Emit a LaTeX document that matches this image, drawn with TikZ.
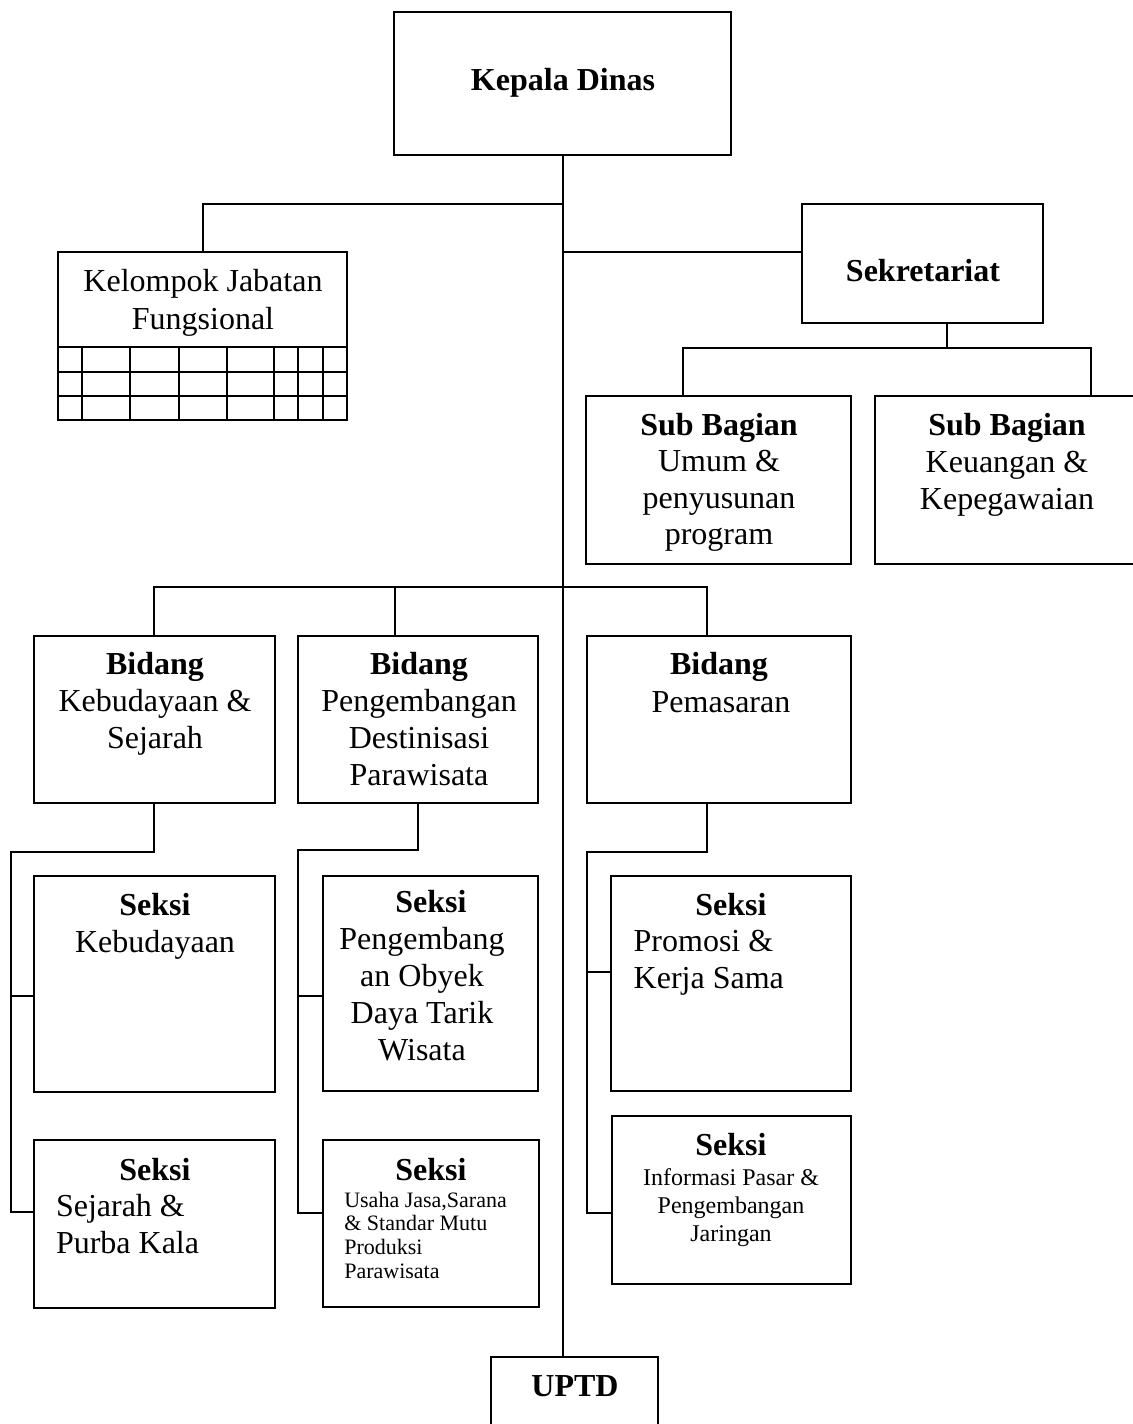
\documentclass[tikz,border=0pt]{standalone}
\usepackage{fontspec}
\setmainfont{Liberation Serif}
\newcommand\orgbox[5]{%
  \pgfmathsetmacro\orgbw{(#4-#2)*0.5}%
  \pgfmathsetmacro\orgbh{(#5-#3)*0.5}%
  \node[obox, minimum width=\orgbw pt, minimum height=\orgbh pt] (#1) at ({(#2+#4)/2},{(#3+#5)/2}) {};}
\begin{document}
\begin{tikzpicture}[x=0.5pt,y=-0.5pt,
  line width=1pt,
  obox/.style={draw=black, fill=white, line width=1pt, rectangle, inner sep=0pt, outer sep=0pt},
  tx/.style={inner sep=0pt, anchor=base, font=\fontsize{16}{19}\selectfont},
  txb/.style={tx, font=\fontsize{16}{19}\selectfont\bfseries},
  txl/.style={tx, anchor=base west},
  txs/.style={inner sep=0pt, anchor=base west, font=\fontsize{11}{13}\selectfont},
  txm/.style={inner sep=0pt, anchor=base, font=\fontsize{12}{14}\selectfont},
  conn/.style={draw=black, line width=1pt}]
\useasboundingbox (0,0) rectangle (1133,1424);
\clip (0,0) rectangle (1133,1424);
\fill[white] (0,0) rectangle (1133,1424);

% ---------- boxes ----------
\orgbox{kd}{394.3}{11.7}{730.7}{155}
\orgbox{kjf}{58.3}{252.3}{346.7}{420}
\orgbox{sek}{802.3}{204}{1043.3}{323.3}
\orgbox{sbu}{586}{395.7}{850.7}{564}
\orgbox{sbk}{875}{395.7}{1139}{563.5}
\orgbox{b1}{34.3}{636}{275.3}{803.3}
\orgbox{b2}{298.3}{636}{538.3}{802.7}
\orgbox{b3}{586.7}{636}{850.7}{803}
\orgbox{s1}{34.3}{876}{275.3}{1092}
\orgbox{s2}{34.3}{1140}{275.3}{1308}
\orgbox{s3}{323.3}{876}{538.3}{1091}
\orgbox{s4}{322.7}{1140}{539.3}{1307}
\orgbox{s5}{610.7}{876}{850.7}{1091}
\orgbox{s6}{611.7}{1116}{850.7}{1284}
\orgbox{uptd}{491}{1357}{658}{1460}

% grid in Kelompok Jabatan Fungsional
\foreach \yy in {347.3,371.7,395.7}
  \draw[conn] (kjf.west |- 0,\yy) -- (kjf.east |- 0,\yy);
\foreach \xx in {82.3,130.3,178.7,226.7,274.3,298.3,322.7}
  \draw[conn] (\xx,347.3) -- (kjf.south -| \xx,0);

% ---------- connectors ----------
\draw[conn] (kd.south) -- (kd.south |- uptd.north);
\draw[conn] (kjf.north) |- (kd.south |- sek.north);
\draw[conn] (kd.south |- kjf.north) -- (sek.west |- kjf.north);

\coordinate (sj) at (946.7,347.7);
\coordinate (sL) at (682.7,347.7);
\coordinate (sR) at (1091,347.7);
\draw[conn] (sek.south -| sj) -- (sj);
\draw[conn] (sbu.north -| sL) -- (sL) -- (sR) -- (sbk.north -| sR);

\coordinate (bL) at (154.3,587.3);
\coordinate (bM) at (395,587.3);
\coordinate (bR) at (706.7,587.3);
\draw[conn] (b1.north -| bL) -- (bL) -- (bR) -- (b3.north -| bR);
\draw[conn] (bM) -- (b2.north -| bM);

\coordinate (c1a) at (154.3,851.7);
\coordinate (c1b) at (10.7,851.7);
\coordinate (c1c) at (10.7,996);
\coordinate (c1d) at (10.7,1212.3);
\draw[conn] (b1.south -| c1a) -- (c1a) -- (c1b) -- (c1d) -- (s2.west |- c1d);
\draw[conn] (c1c) -- (s1.west |- c1c);

\coordinate (c2a) at (418.3,850);
\coordinate (c2b) at (298.3,850);
\coordinate (c2c) at (298.3,996);
\coordinate (c2d) at (298.3,1213);
\draw[conn] (b2.south -| c2a) -- (c2a) -- (c2b) -- (c2d) -- (s4.west |- c2d);
\draw[conn] (c2c) -- (s3.west |- c2c);

\coordinate (c3a) at (706.7,851.7);
\coordinate (c3b) at (586.7,851.7);
\coordinate (c3c) at (586.7,971.7);
\coordinate (c3d) at (586.7,1213);
\draw[conn] (b3.south -| c3a) -- (c3a) -- (c3b) -- (c3d) -- (s6.west |- c3d);
\draw[conn] (c3c) -- (s5.west |- c3c);

% ---------- texts ----------
\node[txb] (kdt) at (563,90) {Kepala Dinas};
\node[tx] (kjft1) at (203,291.7) {Kelompok Jabatan};
\node[tx] (kjft2) at (203,329.3) {Fungsional};
\node[txb] (sekt) at (923,281.7) {Sekretariat};

\node[txb] (sbut1) at (719,435) {Sub Bagian};
\node[tx] (sbut2) at (719,471.7) {Umum \&};
\node[tx] (sbut3) at (719,508.3) {penyusunan};
\node[tx] (sbut4) at (719,544.3) {program};

\node[txb] (sbkt1) at (1007,435) {Sub Bagian};
\node[tx] (sbkt2) at (1007,472) {Keuangan \&};
\node[tx] (sbkt3) at (1007,509) {Kepegawaian};

\node[txb] (b1t1) at (155,674.3) {Bidang};
\node[tx] (b1t2) at (155,711.5) {Kebudayaan \&};
\node[tx] (b1t3) at (155,748.3) {Sejarah};

\node[txb] (b2t1) at (419,674.3) {Bidang};
\node[tx] (b2t2) at (419,711.7) {Pengembangan};
\node[tx] (b2t3) at (419,748.3) {Destinisasi};
\node[tx] (b2t4) at (419,785) {Parawisata};

\node[txb] (b3t1) at (719,674.3) {Bidang};
\node[tx] (b3t2) at (721,712) {Pemasaran};

\node[txb] (s1t1) at (155,915) {Seksi};
\node[tx] (s1t2) at (155,952) {Kebudayaan};

\node[txb] (s2t1) at (155,1180) {Seksi};
\node[txl] (s2t2) at (55,1216.7) {Sejarah \&};
\node[txl] (s2t3) at (55,1253.3) {Purba Kala};

\node[txb] (s3t1) at (431,912) {Seksi};
\node[tx] (s3t2) at (422,949) {Pengembang};
\node[tx] (s3t3) at (422,986) {an Obyek};
\node[tx] (s3t4) at (422,1023) {Daya Tarik};
\node[tx] (s3t5) at (422,1060) {Wisata};

\node[txb] (s4t1) at (431,1180) {Seksi};
\node[txs] (s4t2) at (343.3,1207.3) {Usaha Jasa,Sarana};
\node[txs] (s4t3) at (343.3,1230.7) {\& Standar Mutu};
\node[txs] (s4t4) at (343.3,1254) {Produksi};
\node[txs] (s4t5) at (343.3,1278.3) {Parawisata};

\node[txb] (s5t1) at (731,915) {Seksi};
\node[txl] (s5t2) at (632.7,951.7) {Promosi \&};
\node[txl] (s5t3) at (632.7,988.3) {Kerja Sama};

\node[txb] (s6t1) at (731,1155) {Seksi};
\node[txm] (s6t2) at (731,1185) {Informasi Pasar \&};
\node[txm] (s6t3) at (731,1213.3) {Pengembangan};
\node[txm] (s6t4) at (731,1241.7) {Jaringan};

\node[txb] (uptdt) at (575,1396) {UPTD};
\end{tikzpicture}
\end{document}
